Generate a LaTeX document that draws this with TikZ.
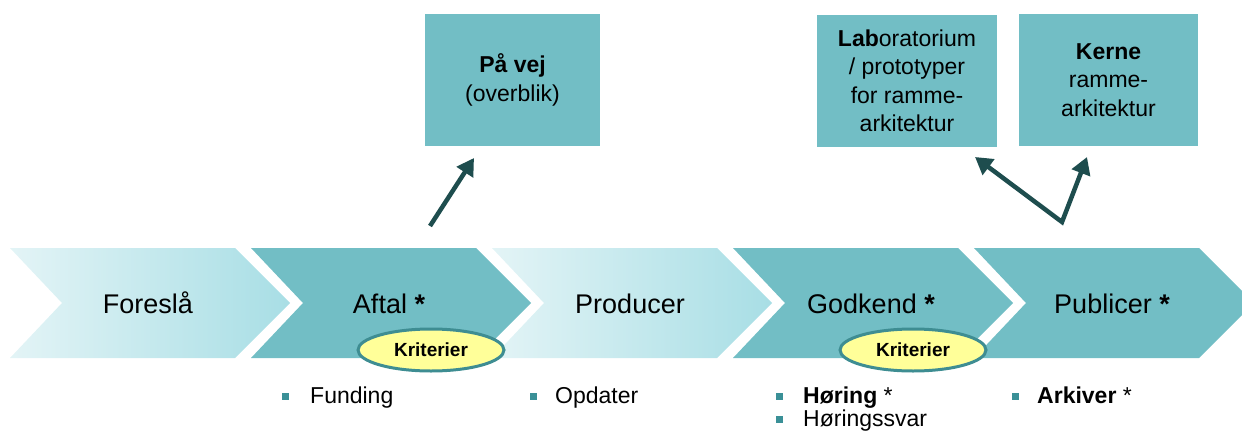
\documentclass[tikz,border=0pt]{standalone}
\usepackage{fontspec}
\setmainfont{Liberation Sans}
\usetikzlibrary{arrows.meta,shapes.geometric}
\definecolor{tealfill}{HTML}{72BEC5}
\definecolor{lightL}{HTML}{E3F4F6}
\definecolor{lightR}{HTML}{A8DEE5}
\definecolor{ringc}{HTML}{3E8D92}
\definecolor{yel}{HTML}{FFFF99}
\definecolor{arrc}{HTML}{1E4D4E}
\definecolor{bulc}{HTML}{3A9097}
\newcommand\chevat[2]{\path[#2] (#1,248) -- ++(225,0) -- ++(55,55) -- ++(-55,55) -- ++(-225,0) -- ++(52,-55) -- cycle;}
\tikzset{
  darkchev/.style={fill=tealfill},
  lightchev/.style={left color=lightL,right color=lightR},
  lbl/.style={anchor=base,inner sep=0,font=\fontsize{27}{30}\selectfont},
  krit/.style={ellipse,draw=ringc,line width=3pt,fill=yel,minimum width=146,minimum height=42,inner sep=0,font=\bfseries\fontsize{19}{20}\selectfont},
  box/.style={rectangle,fill=tealfill,minimum height=132,inner sep=0,align=center,font=\fontsize{23}{28.5}\selectfont},
  arr/.style={draw=arrc,line width=4.5pt,-{Triangle[width=19pt,length=17pt]}},
  arrtwo/.style={draw=arrc,line width=4.5pt,line join=miter,{Triangle[width=19pt,length=17pt]}-{Triangle[width=19pt,length=17pt]}},
  bul/.style={rectangle,fill=bulc,minimum size=7,inner sep=0},
  btxt/.style={anchor=base west,inner sep=0,font=\fontsize{23}{23}\selectfont}
}
\begin{document}
\begin{tikzpicture}[x=1pt,y=-1pt]
\useasboundingbox (0,0) rectangle (1242,436);
% chevrons
\chevat{10}{lightchev}
\chevat{251}{darkchev}
\chevat{492}{lightchev}
\chevat{733}{darkchev}
\chevat{974}{darkchev}
% chevron labels
\node[lbl] (foresla) at (148,313) {Foreslå};
\node[lbl] (aftal) at (389,313) {Aftal \textbf{*}};
\node[lbl] (producer) at (630,313) {Producer};
\node[lbl] (godkend) at (871,313) {Godkend \textbf{*}};
\node[lbl] (publicer) at (1112,313) {Publicer \textbf{*}};
% criteria ellipses
\node[krit] (krit1) at (431,350) {Kriterier};
\node[krit] (krit2) at (913,350) {Kriterier};
% top boxes
\node[box,minimum width=175] (pavej) at (512.5,80) {\textbf{På vej}\\(overblik)};
\node[box,minimum width=180] (lab) at (907,81) {\textbf{Lab}oratorium\\/ prototyper\\for ramme-\\arkitektur};
\node[box,minimum width=179] (kerne) at (1108.5,80) {\textbf{Kerne}\\ramme-\\arkitektur};
% arrows
\coordinate (aftalfoot) at (430,226);
\coordinate (pavejtip) at (474,158);
\draw[arr] (aftalfoot) -- (pavejtip);
\coordinate (vertex) at (1062,222);
\coordinate (labtip) at (975,157);
\coordinate (kernetip) at (1087,157);
\draw[arrtwo] (labtip) -- (vertex) -- (kernetip);
% bullets
\node[bul] (b1) at (285,396) {};
\node[btxt] (t1) at (310,403) {Funding};
\node[bul] (b2) at (533,396) {};
\node[btxt] (t2) at (555,403) {Opdater};
\node[bul] (b3) at (779,396) {};
\node[btxt] (t3) at (803,403) {\textbf{Høring} *};
\node[bul] (b4) at (779,419) {};
\node[btxt] (t4) at (803,426) {Høringssvar};
\node[bul] (b5) at (1015,396) {};
\node[btxt] (t5) at (1037,403) {\textbf{Arkiver} *};
\end{tikzpicture}
\end{document}
